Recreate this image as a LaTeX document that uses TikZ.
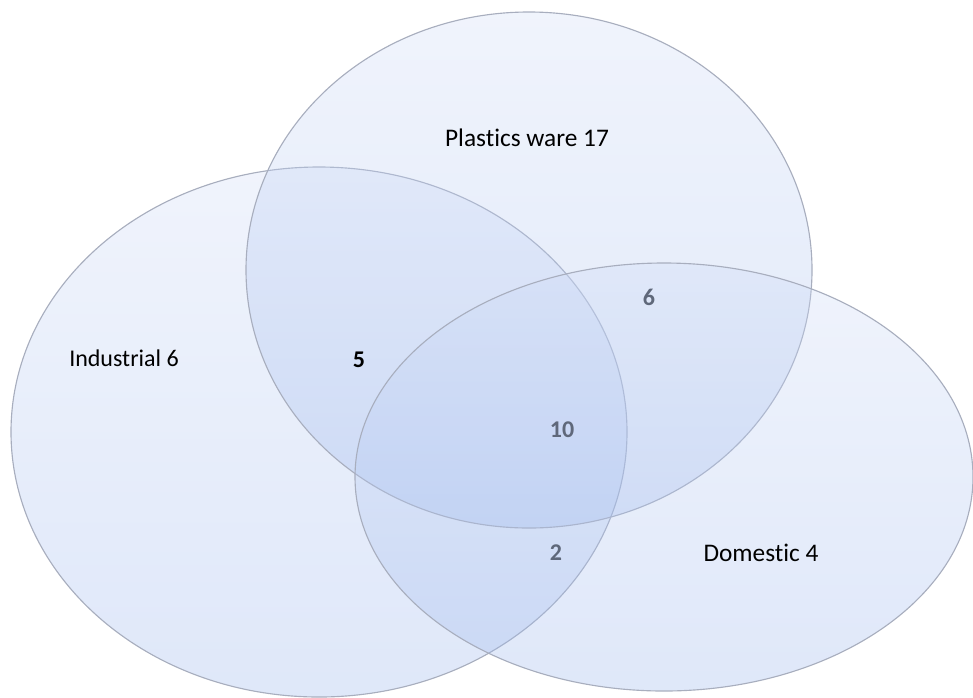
\documentclass[tikz,border=0pt]{standalone}
\usepackage{fontspec}
\setmainfont{Carlito}[Ligatures=NoCommon]
\usepackage{tikz}
\usetikzlibrary{positioning}

\definecolor{vennline}{RGB}{168,174,190}
\definecolor{venntop}{RGB}{208,220,246}
\definecolor{vennbot}{RGB}{155,182,236}
\definecolor{numgray}{RGB}{95,104,122}

\tikzset{
  setshape/.style={draw=vennline, line width=0.85pt, top color=venntop,
    bottom color=vennbot, fill opacity=0.32},
  setlabel/.style={anchor=base, font=\fontsize{19}{22}\selectfont},
  countlabel/.style={anchor=base, text=numgray,
    font=\fontsize{18}{21}\selectfont\bfseries}
}

\begin{document}
\begin{tikzpicture}[x=0.75pt, y=-0.75pt]
    \useasboundingbox (0,0) rectangle (973,697);
    % the three sets
    \path[setshape] (319,432) ellipse [x radius=308, y radius=265];
    \path[setshape] (529,270) ellipse [x radius=283, y radius=258];
    \path[setshape] (664,477) ellipse [x radius=309, y radius=214];

    % set names
    \node[setlabel] (plastics) at (527,146) {Plastics ware 17};
    \node[setlabel, font=\fontsize{18}{21}\selectfont] (industrial) at (124,366) {Industrial 6};
    \node[setlabel] (domestic) at (761,561) {Domestic 4};

    % overlaps
    \node[countlabel, text=black] (indplast) at (359,367) {5};
    \node[countlabel] (plastdom) at (649,305) {6};
    \node[countlabel] (allthree) at (562,437) {10};
    \node[countlabel] (inddom) at (556,560) {2};
\end{tikzpicture}
\end{document}
